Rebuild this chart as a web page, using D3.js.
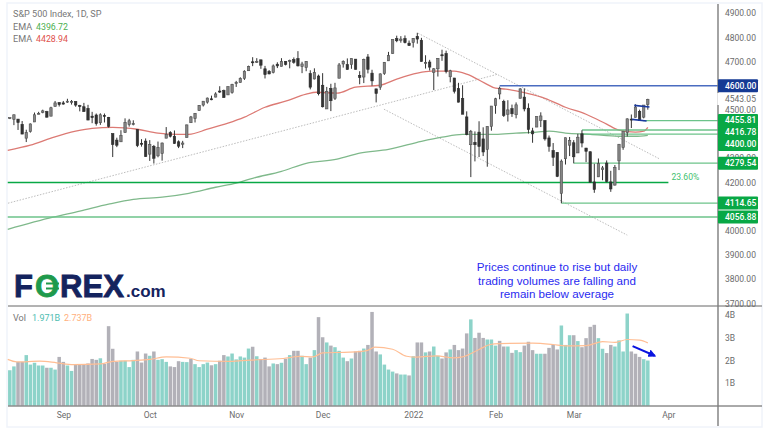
<!DOCTYPE html>
<html>
<head>
<meta charset="utf-8">
<style>
    html, body { margin: 0; padding: 0; background: #fff; }
    svg { display: block; font-family: Roboto, sans-serif; }
</style>
<script src="https://cdn.jsdelivr.net/npm/d3@7"></script>
</head>
<body>
<svg id="chart" width="770" height="432"></svg>
<script>
const opens = [4464,4461,4462,4440,4383,4410,4450,4484,4490,4493,4474,4514,4530,4529,4534,4532,4535,4518,4513,4506,4474,4479,4447,4477,4469,4402,4375,4368,4406,4439,4442,4419,4362,4371,4317,4349,4310,4320,4383,4406,4391,4368,4358,4386,4447,4464,4497,4520,4532,4546,4553,4578,4580,4562,4572,4610,4613,4630,4662,4699,4701,4707,4670,4659,4655,4689,4680,4701,4700,4708,4712,4679,4675,4650,4628,4640,4602,4504,4589,4548,4631,4690,4687,4687,4710,4643,4636,4719,4652,4587,4594,4650,4703,4733,4795,4788,4795,4776,4779,4804,4788,4693,4698,4655,4670,4728,4733,4637,4632,4588,4547,4471,4356,4366,4408,4380,4337,4432,4519,4566,4535,4482,4505,4480,4548,4553,4507,4413,4429,4456,4456,4384,4332,4324,4155,4298,4354,4364,4322,4401,4342,4327,4202,4223,4253,4280,4202,4189,4289,4345,4407,4462,4469,4494,4470,4522]
const highs = [4468,4480,4462,4454,4418,4444,4489,4492,4501,4496,4513,4537,4532,4537,4546,4541,4535,4521,4529,4521,4492,4485,4486,4485,4471,4402,4385,4416,4465,4463,4457,4419,4379,4382,4375,4355,4369,4365,4429,4412,4415,4374,4372,4439,4475,4487,4520,4536,4551,4559,4573,4598,4584,4597,4608,4620,4635,4664,4683,4718,4714,4708,4682,4665,4688,4697,4714,4701,4708,4717,4743,4699,4702,4664,4672,4646,4652,4595,4608,4612,4694,4705,4713,4713,4710,4660,4712,4731,4666,4587,4651,4698,4740,4791,4807,4805,4808,4787,4797,4819,4798,4726,4707,4673,4714,4749,4745,4666,4632,4612,4602,4494,4417,4411,4453,4428,4432,4516,4550,4596,4542,4540,4522,4531,4590,4589,4527,4426,4473,4490,4456,4394,4363,4325,4295,4385,4388,4375,4401,4416,4343,4328,4277,4299,4268,4291,4248,4272,4358,4412,4465,4481,4523,4501,4520,4546]
const lows = [4462,4437,4417,4400,4367,4406,4450,4482,4486,4468,4474,4514,4514,4522,4529,4522,4513,4494,4493,4458,4445,4435,4438,4448,4427,4305,4346,4368,4406,4431,4436,4346,4348,4306,4289,4278,4304,4290,4383,4386,4360,4342,4342,4386,4447,4448,4497,4514,4526,4540,4552,4570,4551,4562,4567,4595,4613,4624,4662,4681,4694,4670,4630,4647,4651,4673,4680,4684,4672,4691,4680,4652,4660,4585,4626,4560,4510,4504,4495,4541,4631,4675,4667,4670,4667,4606,4611,4651,4600,4531,4583,4645,4703,4733,4780,4778,4775,4766,4758,4774,4700,4671,4663,4582,4638,4703,4651,4614,4568,4531,4483,4395,4222,4287,4305,4309,4265,4414,4484,4544,4471,4452,4471,4465,4548,4494,4402,4364,4429,4429,4373,4327,4268,4222,4114,4274,4309,4279,4322,4345,4284,4200,4157,4223,4209,4200,4161,4187,4251,4335,4390,4425,4469,4456,4465,4501]
const closes = [4468,4480,4448,4400,4406,4442,4480,4486,4496,4470,4509,4529,4522,4524,4536,4535,4520,4514,4493,4458,4468,4443,4480,4473,4432,4357,4354,4395,4448,4455,4443,4352,4359,4307,4357,4300,4345,4363,4399,4391,4361,4350,4363,4438,4471,4486,4519,4536,4549,4544,4566,4574,4551,4596,4605,4613,4630,4660,4680,4697,4701,4685,4646,4649,4682,4682,4700,4688,4704,4697,4682,4690,4701,4594,4655,4567,4513,4577,4538,4591,4686,4701,4667,4712,4668,4634,4709,4668,4620,4568,4649,4697,4725,4791,4786,4793,4778,4766,4796,4793,4700,4696,4677,4670,4713,4726,4659,4662,4577,4532,4482,4398,4410,4356,4349,4326,4431,4516,4546,4589,4477,4500,4484,4521,4587,4504,4419,4401,4472,4475,4380,4349,4304,4225,4288,4385,4374,4306,4387,4363,4329,4201,4171,4278,4260,4204,4173,4262,4358,4412,4463,4461,4512,4456,4520,4543]

const volumes = [1.56,1.73,1.93,1.93,2.23,1.81,1.89,1.77,1.77,1.67,1.67,1.59,2.15,1.93,1.77,1.53,1.81,1.81,1.81,1.86,2.06,2.02,2.09,1.84,3.51,2.51,1.93,1.98,1.98,1.70,2.02,2.39,1.90,2.30,2.20,2.39,2.02,2.05,1.93,1.73,1.70,1.96,1.93,1.92,2.06,1.83,1.70,1.83,1.90,1.78,1.83,1.98,2.23,2.17,2.30,2.04,2.17,2.12,2.52,2.60,2.18,2.06,2.12,1.73,1.86,1.83,1.89,2.06,2.23,2.42,2.42,2.20,1.83,2.12,2.45,3.91,3.02,2.79,2.65,2.58,2.42,2.12,1.96,2.08,2.39,2.42,2.52,2.68,4.14,2.39,2.26,1.81,1.59,1.50,1.42,1.37,1.37,1.33,2.18,2.79,2.79,2.35,2.39,2.61,2.20,2.08,2.35,2.48,2.68,2.45,2.52,3.19,3.81,2.99,3.22,2.99,2.92,2.92,2.65,2.86,2.61,2.61,2.33,2.45,2.36,2.65,2.82,2.45,2.29,2.29,2.29,2.55,2.68,2.48,3.54,2.68,3.11,3.11,2.85,2.58,2.98,3.48,3.57,2.98,2.51,2.32,2.68,2.61,2.88,2.39,4.07,2.39,2.29,2.15,2.05,1.99]
// t = teal bar, g = grey bar, ten bars to a group, same order as volumes
const volumeTones = ["ttggtttttg","ttggttgggg","ggtggggttt","tgggtgtttg","ggttgttttg","tggttttttg","tgggtgtgtg","gttgtggtgt","ttgtggtggg","ttttgttgtg","gtgttggtgg","ggtgggtttg","gtgttgggtt","ggggtttgtg","gggttggttt","tgggtt"].join("")

const ema200Bars = [-0.5,10.5,17,24,30,37,43.5,50,55,59,66,72,79.5,85,92,100,105,110,112,118,123,128,131,135,141,148,152,155]
const ema200Values = [4006,4056,4081,4110,4130,4139,4155,4180,4197,4217,4246,4279,4296,4321,4337,4370,4387,4399,4399,4399,4404,4408,4412,4404,4399,4391,4391,4395]
const ema50Bars = [-0.5,5,10,16,20,25,31,36,41,43.5,48,53,57,62,67,72,74.5,79.5,84,90,94,99,102.5,108,111,115.5,118,120.5,125.5,130,135,140,145,148,152,154,155]
const ema50Values = [4333,4354,4383,4412,4424,4428,4420,4404,4399,4399,4420,4445,4470,4511,4536,4565,4573,4569,4594,4602,4627,4652,4660,4660,4648,4610,4590,4586,4569,4548,4511,4482,4441,4416,4408,4412,4428]
const volMaBars = [-0.5,1.7,7.3,11.4,15.4,22,25,30,34,38,43.8,46,53.5,58.3,66.4,70.5,73.7,76,82.6,86.7,88.7,93,96.4,98.8,103.7,107.7,110,114,116.7,119,127,132,135,140,144,147,150,153,155]
const volMaValues = [2.04,1.93,1.96,1.89,1.81,1.84,1.95,1.99,2.04,2.15,2.09,1.98,1.95,2.01,2.08,2.17,2.15,2.33,2.36,2.43,2.58,2.49,2.18,2.14,2.20,2.11,2.15,2.48,2.70,2.74,2.76,2.70,2.64,2.65,2.83,2.79,2.92,2.89,2.77]

// 4600, 4400 and 4100 sit behind the price pills in the picture
const priceTicks = [4900,4800,4700,4500,4300,4200,4000,3900,3800,3700]
const volumeTicks = [1,2,3,4]
const monthBars = [13,34,55,76,98,118,137,160]
const monthLabels = ["Sep","Oct","Nov","Dec","2022","Feb","Mar","Apr"]

const levelPrices = [4600,4455.81,4416.78,4400,4279.54,4114.65,4056.88]
const levelStarts = [119,153.8,139,139,137,134,-0.5]
const fibPrice = 4200
const fibBars = [-0.5,160]
const lastPrice = 4543.05

// trend lines as [bar, price, bar, price]
const trendLines = [
    [-0.44,4114,118.6,4648],
    [99.2,4817,158,4296],
    [90.9,4503,150,3982]
]
const channelLines = [
    [151.7,4519,155.4,4512],
    [151.2,4461,154.7,4454]
]
const volumeArrow = [151.3,2.63,156.7,2.2]
const noteLines = ["Prices continue to rise but daily", "trading volumes are falling and", "remain below average"]

const axisX = 718
const paneLeft = 8
const svg = d3.select("#chart")

const x = d3.scaleLinear().domain([0, 160]).range([9.8, 668.4])
const y = d3.scaleLinear().domain([3700, 4900]).range([303.3, 13.2])
const yVol = d3.scaleLinear().domain([0, 4]).range([405.5, 315.1])

const bars = d3.range(opens.length)
const isUp = i => closes[i] >= opens[i]

// frame
svg.append("rect").attr("x", 0).attr("y", 0).attr("width", 770).attr("height", 432).attr("fill", "#fff")
svg.append("rect").attr("x", 7).attr("y", 3).attr("width", 755).attr("height", 424)
    .attr("fill", "none").attr("stroke", "#f0f3fa").attr("stroke-width", 1.5)

// volume
svg.append("g").selectAll("rect").data(bars).join("rect")
    .attr("x", i => x(i) - 1.75)
    .attr("width", 3.5)
    .attr("y", i => yVol(volumes[i]))
    .attr("height", i => yVol(0) - yVol(volumes[i]))
    .attr("fill", i => volumeTones[i] == "t" ? "#8dd3c9" : "#b2b1b8")

const volMa = d3.line().x(i => x(volMaBars[i])).y(i => yVol(volMaValues[i])).curve(d3.curveMonotoneX)
svg.append("path").attr("d", volMa(d3.range(volMaBars.length)))
    .attr("fill", "none").attr("stroke", "#ffbe94").attr("stroke-width", 1.2)

// dotted trend lines
svg.append("g").selectAll("line").data(trendLines).join("line")
    .attr("x1", d => x(d[0])).attr("y1", d => y(d[1]))
    .attr("x2", d => x(d[2])).attr("y2", d => y(d[3]))
    .attr("stroke", "#bdbdbd").attr("stroke-width", 1).attr("stroke-dasharray", "1.5 1.5")

// moving averages
const ema200 = d3.line().x(i => x(ema200Bars[i])).y(i => y(ema200Values[i])).curve(d3.curveMonotoneX)
svg.append("path").attr("d", ema200(d3.range(ema200Bars.length)))
    .attr("fill", "none").attr("stroke", "#7fb98b").attr("stroke-width", 1.3)
const ema50 = d3.line().x(i => x(ema50Bars[i])).y(i => y(ema50Values[i])).curve(d3.curveMonotoneX)
svg.append("path").attr("d", ema50(d3.range(ema50Bars.length)))
    .attr("fill", "none").attr("stroke", "#dc7a74").attr("stroke-width", 1.3)

// horizontal levels
svg.append("g").selectAll("line").data(levelPrices).join("line")
    .attr("x1", (d, i) => x(levelStarts[i])).attr("x2", axisX)
    .attr("y1", d => y(d)).attr("y2", d => y(d))
    .attr("stroke", d => d == 4600 ? "#4a6cc0" : "#6cc38a").attr("stroke-width", 1.3)
svg.append("line")
    .attr("x1", x(fibBars[0])).attr("x2", x(fibBars[1]))
    .attr("y1", y(fibPrice)).attr("y2", y(fibPrice))
    .attr("stroke", "#08a845").attr("stroke-width", 1.6)
svg.append("text").attr("x", x(fibBars[1]) + 3).attr("y", y(fibPrice) - 5.5)
    .attr("dy", "0.32em").attr("fill", "#3fbf70").attr("font-size", 8.6).text("23.60%")

// candles
const candles = svg.append("g").selectAll("g").data(bars).join("g")
candles.append("line")
    .attr("x1", i => x(i)).attr("x2", i => x(i))
    .attr("y1", i => y(highs[i])).attr("y2", i => y(lows[i]))
    .attr("stroke", "#333").attr("stroke-width", 1)
candles.append("rect")
    .attr("x", i => x(i) - 1.2)
    .attr("width", 2.4)
    .attr("y", i => y(Math.max(opens[i], closes[i])))
    .attr("height", i => Math.max(1, Math.abs(y(opens[i]) - y(closes[i]))))
    .attr("fill", i => isUp(i) ? "#858585" : "#333")
    .attr("stroke", i => isUp(i) ? "#4d4d4d" : "#2b2b2b")
    .attr("stroke-width", 0.6)

// flag on the last bars
svg.append("g").selectAll("line").data(channelLines).join("line")
    .attr("x1", d => x(d[0])).attr("y1", d => y(d[1]))
    .attr("x2", d => x(d[2])).attr("y2", d => y(d[3]))
    .attr("stroke", "#1a3aa0").attr("stroke-width", 1.7)

// volume arrow
svg.append("defs").append("marker")
    .attr("id", "arrow").attr("viewBox", "0 0 10 10").attr("refX", 8).attr("refY", 5)
    .attr("markerWidth", 4).attr("markerHeight", 4).attr("orient", "auto")
    .append("path").attr("d", "M0,0L10,5L0,10z").attr("fill", "#0a14e0")
svg.append("line")
    .attr("x1", x(volumeArrow[0])).attr("y1", yVol(volumeArrow[1]))
    .attr("x2", x(volumeArrow[2])).attr("y2", yVol(volumeArrow[3]))
    .attr("stroke", "#0a14e0").attr("stroke-width", 2).attr("marker-end", "url(#arrow)")

// pane separators and price scale line
svg.append("line").attr("x1", paneLeft).attr("x2", 762).attr("y1", 306).attr("y2", 306)
    .attr("stroke", "#666").attr("stroke-width", 1)
svg.append("line").attr("x1", paneLeft).attr("x2", 762).attr("y1", 406).attr("y2", 406)
    .attr("stroke", "#555").attr("stroke-width", 1)
svg.append("line").attr("x1", axisX).attr("x2", axisX).attr("y1", 4).attr("y2", 426)
    .attr("stroke", "#7d7d7d").attr("stroke-width", 1.4)

// axes
const styleAxis = g => g
    .call(g => g.select(".domain").remove())
    .call(g => g.selectAll(".tick line").remove())
    .call(g => g.selectAll(".tick text").attr("fill", "#6b6b6b").attr("font-family", "Roboto, sans-serif").attr("font-size", 8.5))

svg.append("g").attr("transform", `translate(${axisX + 7},0)`)
    .call(d3.axisRight(y).tickValues(priceTicks).tickSize(0).tickPadding(0).tickFormat(d3.format(".2f")))
    .call(styleAxis)
svg.append("g").attr("transform", `translate(${axisX + 7},0)`)
    .call(d3.axisRight(yVol).tickValues(volumeTicks).tickSize(0).tickPadding(0).tickFormat(d => d + "B"))
    .call(styleAxis)
svg.append("g").attr("transform", "translate(0,410)")
    .call(d3.axisBottom(x).tickValues(monthBars).tickSize(0).tickPadding(2).tickFormat(d => monthLabels[monthBars.indexOf(d)]))
    .call(styleAxis)

// last price, no pill, white behind it
svg.append("rect").attr("x", axisX - 0.7).attr("y", y(lastPrice) - 6.5).attr("width", 40).attr("height", 12).attr("fill", "#fff")
svg.append("text").attr("x", axisX + 7).attr("y", y(lastPrice)).attr("dy", "0.32em")
    .attr("fill", "#6b6b6b").attr("font-size", 8.5).text(d3.format(".2f")(lastPrice))

// price pills, pushed down where they would overlap
let pillBottom = -Infinity
const pillCentres = levelPrices.map(p => {
    const c = Math.max(y(p), pillBottom + 12)
    pillBottom = c
    return c
})
const pills = svg.append("g").selectAll("g").data(levelPrices).join("g")
    .attr("transform", (d, i) => `translate(${axisX},${pillCentres[i]})`)
pills.append("rect").attr("y", -6.5).attr("width", 40).attr("height", 13)
    .attr("rx", 1)
    .attr("fill", d => d == 4600 ? "#153a94" : "#08a845")
pills.append("text").attr("x", 7).attr("dy", "0.34em").attr("fill", "#fff")
    .attr("font-size", 8.5).attr("font-weight", 500).text(d3.format(".2f"))

// legend
const legend = (px, py, txt, col, size) => svg.append("text").attr("x", px).attr("y", py).attr("dy", "0.32em")
    .attr("fill", col).attr("font-size", size).text(txt)
legend(13, 14, "S&P 500 Index, 1D, SP", "#777", 9.1)
legend(13, 27, "EMA", "#777", 9.1)
legend(36, 27, "4396.72", "#4caf50", 8.8)
legend(13, 39, "EMA", "#777", 9.1)
legend(36, 39, "4428.94", "#e0504c", 8.8)
legend(13, 318, "Vol", "#777", 9.1)
legend(32, 318, "1.971B", "#4dbdb0", 9)
legend(64, 318, "2.737B", "#ffb07c", 9)

// note
svg.append("g").selectAll("text").data(noteLines).join("text")
    .attr("x", 557).attr("y", (d, i) => 267 + i * 13.5).attr("dy", "0.35em")
    .attr("text-anchor", "middle").attr("fill", "#2a2af0")
    .attr("font-family", "Liberation Sans, sans-serif").attr("font-size", 11.6).text(d => d)

// logo
const logo = svg.append("g").attr("font-family", "Liberation Sans, sans-serif").attr("font-weight", 700)
logo.append("text").attr("x", 14).attr("y", 297).attr("font-size", 31).attr("fill", "#14235e").attr("stroke", "#14235e").attr("stroke-width", 0.8).text("F")
logo.append("text").attr("x", 35).attr("y", 297).attr("font-size", 31).attr("fill", "#1f9a4c").attr("stroke", "#1f9a4c").attr("stroke-width", 0.8).text("O")
logo.append("line").attr("x1", 46).attr("x2", 59).attr("y1", 283.5).attr("y2", 283.5).attr("stroke", "#1f9a4c").attr("stroke-width", 2)
logo.append("line").attr("x1", 46).attr("x2", 59).attr("y1", 288.5).attr("y2", 288.5).attr("stroke", "#1f9a4c").attr("stroke-width", 2)
logo.append("text").attr("x", 60).attr("y", 297).attr("font-size", 31).attr("fill", "#14235e").attr("stroke", "#14235e").attr("stroke-width", 0.8)
    .attr("textLength", 64).attr("lengthAdjust", "spacingAndGlyphs").text("REX")
logo.append("text").attr("x", 126).attr("y", 296.5).attr("font-size", 17).attr("fill", "#14235e").text(".com")
</script>
</body>
</html>
